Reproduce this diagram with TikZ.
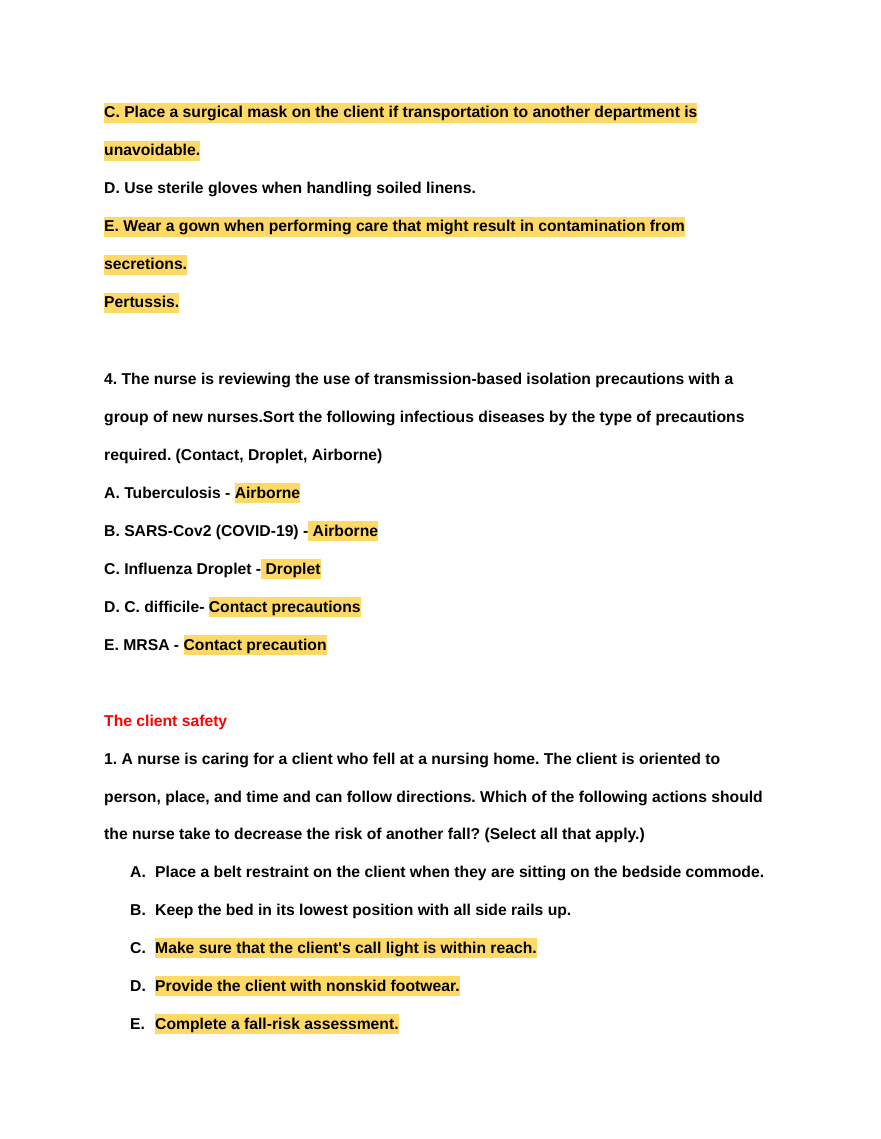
\documentclass[tikz,border=0pt]{standalone}
\usepackage{fontspec}
\setmainfont{Liberation Sans}
\definecolor{hly}{RGB}{255,217,102}
\newcommand\hlt[1]{{\setlength\fboxsep{0pt}\colorbox{hly}{\rule[-5pt]{0pt}{20pt}#1}}}
\begin{document}
\frenchspacing
\begin{tikzpicture}[x=1pt,y=-1pt,
  t/.style={anchor=base west,inner sep=0pt,font=\fontsize{15.7}{16}\selectfont\bfseries\frenchspacing}]
\useasboundingbox (0,0) rectangle (880,1139);
\node[t] (l1) at (104,118) {\hlt{C. Place a surgical mask on the client if transportation to another department is}};
\node[t] (l2) at (104,156) {\hlt{unavoidable.}};
\node[t] (l3) at (104,194) {D. Use sterile gloves when handling soiled linens.};
\node[t] (l4) at (104,232) {\hlt{E. Wear a gown when performing care that might result in contamination from}};
\node[t] (l5) at (104,270) {\hlt{secretions.}};
\node[t] (l6) at (104,308) {\hlt{Pertussis.}};
\node[t] (q1) at (104,384) {4. The nurse is reviewing the use of transmission-based isolation precautions with a};
\node[t] (q2) at (104,422) {group of new nurses.Sort the following infectious diseases by the type of precautions};
\node[t] (q3) at (104,460) {required. (Contact, Droplet, Airborne)};
\node[t] (qa) at (104,498) {A. Tuberculosis - \hlt{Airborne}};
\node[t] (qb) at (104,536) {B. SARS-Cov2 (COVID-19) -\hlt{ Airborne}};
\node[t] (qc) at (104,574) {C. Influenza Droplet -\hlt{ Droplet}};
\node[t] (qd) at (104,612) {D. C. difficile- \hlt{Contact precautions}};
\node[t] (qe) at (104,650) {E. MRSA - \hlt{Contact precaution}};
\node[t,text=red] (h) at (104,726) {The client safety};
\node[t] (s1) at (104,764) {1. A nurse is caring for a client who fell at a nursing home. The client is oriented to};
\node[t] (s2) at (104,802) {person, place, and time and can follow directions. Which of the following actions should};
\node[t] (s3) at (104,839) {the nurse take to decrease the risk of another fall? (Select all that apply.)};
\node[t] (la) at (130,877) {A.};
\node[t] (ta) at (155,877) {Place a belt restraint on the client when they are sitting on the bedside commode.};
\node[t] (lb) at (130,915) {B.};
\node[t] (tb) at (155,915) {Keep the bed in its lowest position with all side rails up.};
\node[t] (lc) at (130,953) {C.};
\node[t] (tc) at (155,953) {\hlt{Make sure that the client\textquotesingle s call light is within reach.}};
\node[t] (ld) at (130,991) {D.};
\node[t] (td) at (155,991) {\hlt{Provide the client with nonskid footwear.}};
\node[t] (le) at (130,1029) {E.};
\node[t] (te) at (155,1029) {\hlt{Complete a fall-risk assessment.}};
\end{tikzpicture}
\end{document}
